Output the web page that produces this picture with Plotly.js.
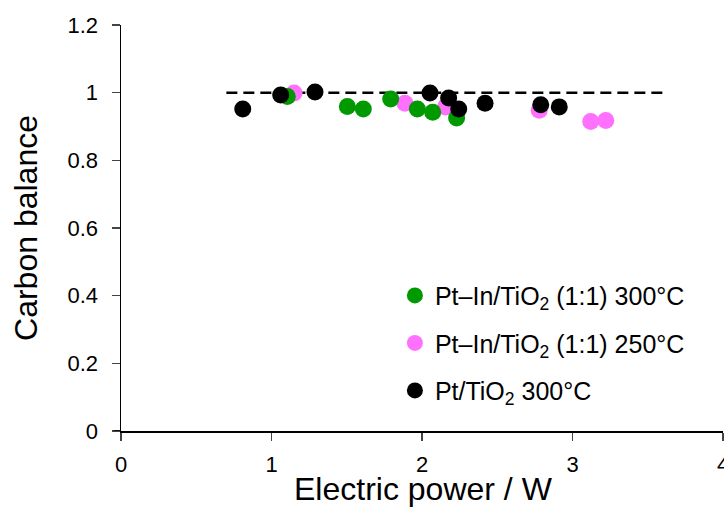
<!DOCTYPE html>
<html>
<head>
<meta charset="utf-8">
<script src="https://cdn.plot.ly/plotly-3.0.1.min.js"></script>
<style>html,body{margin:0;padding:0;background:#fff;}#chart{width:724px;height:509px;}</style>
</head>
<body>
<div id="chart"></div>
<script>
// Data
const greenX = [1.105, 1.504, 1.610, 1.792, 1.969, 2.071, 2.230];
const greenY = [0.989, 0.959, 0.952, 0.981, 0.952, 0.942, 0.925];
const pinkX = [1.150, 1.887, 2.156, 2.779, 3.121, 3.221];
const pinkY = [0.999, 0.969, 0.958, 0.948, 0.915, 0.918];
const blackX = [0.809, 1.061, 1.289, 2.053, 2.177, 2.244, 2.419, 2.789, 2.912];
const blackY = [0.952, 0.993, 1.002, 0.999, 0.984, 0.952, 0.969, 0.964, 0.958];
const refLineX = [0.70, 3.62];
const refLineY = [1, 1];
const seriesNames = [
  'Pt–In/TiO<sub>2</sub> (1:1) 300°C',
  'Pt–In/TiO<sub>2</sub> (1:1) 250°C',
  'Pt/TiO<sub>2</sub> 300°C'
];
const xTitle = 'Electric power / W';
const yTitle = 'Carbon balance';
const xTicks = [0, 1, 2, 3, 4];
const yTicks = [0, 0.2, 0.4, 0.6, 0.8, 1, 1.2];
const yTickText = ['0', '0.2', '0.4', '0.6', '0.8', '1', '1.2'];

const font = 'Liberation Sans, Arial, sans-serif';
const traces = [
  {x: refLineX, y: refLineY, mode: 'lines', showlegend: false, hoverinfo: 'skip',
   line: {color: '#000', width: 2.5, dash: '11px,6px'}},
  {x: pinkX, y: pinkY, mode: 'markers', name: seriesNames[1], legendrank: 2, legendgroup: 'b',
   marker: {color: '#FF70FF', size: 17}},
  {x: greenX, y: greenY, mode: 'markers', name: seriesNames[0], legendrank: 1, legendgroup: 'a',
   marker: {color: '#009900', size: 17}},
  {x: blackX, y: blackY, mode: 'markers', name: seriesNames[2], legendrank: 3, legendgroup: 'c',
   marker: {color: '#000000', size: 17}}
];
const layout = {
  width: 724, height: 509,
  margin: {l: 121, r: 1, t: 25, b: 78},
  paper_bgcolor: '#fff', plot_bgcolor: '#fff',
  font: {family: font, color: '#000', size: 22},
  xaxis: {
    range: [0, 4], tickvals: xTicks, ticks: 'outside', ticklen: 8, tickwidth: 1.5,
    ticklabelstandoff: 5, ticklabeloverflow: 'allow',
    showline: true, linecolor: '#000', linewidth: 1.5, showgrid: false, zeroline: false,
    tickfont: {size: 22, family: font, color: '#000'}
  },
  yaxis: {
    range: [0, 1.2], tickvals: yTicks, ticktext: yTickText, ticks: 'outside', ticklen: 8, tickwidth: 1.5,
    ticklabelstandoff: 9,
    showline: true, linecolor: '#000', linewidth: 1.5, showgrid: false, zeroline: false,
    tickfont: {size: 22, family: font, color: '#000'},
    title: {text: yTitle, font: {size: 32, family: font, color: '#000'}, standoff: 20}
  },
  annotations: [
    {text: xTitle, xref: 'paper', yref: 'paper', x: 0.503, y: -0.094, xanchor: 'center', yanchor: 'top',
     showarrow: false, font: {size: 32, family: font, color: '#000'}}
  ],
  shapes: [
    {type: 'line', xref: 'paper', yref: 'y', x0: -0.012, x1: 0, y0: 0, y1: 0,
     line: {color: '#000', width: 1.5}}
  ],
  legend: {
    x: 0.455, y: 0.39, xanchor: 'left', yanchor: 'top',
    bgcolor: 'rgba(0,0,0,0)', font: {size: 25, family: font, color: '#000'},
    traceorder: 'grouped', tracegroupgap: 12, itemwidth: 30
  },
  showlegend: true
};
Plotly.newPlot('chart', traces, layout, {displayModeBar: false, staticPlot: true});
</script>
</body>
</html>
